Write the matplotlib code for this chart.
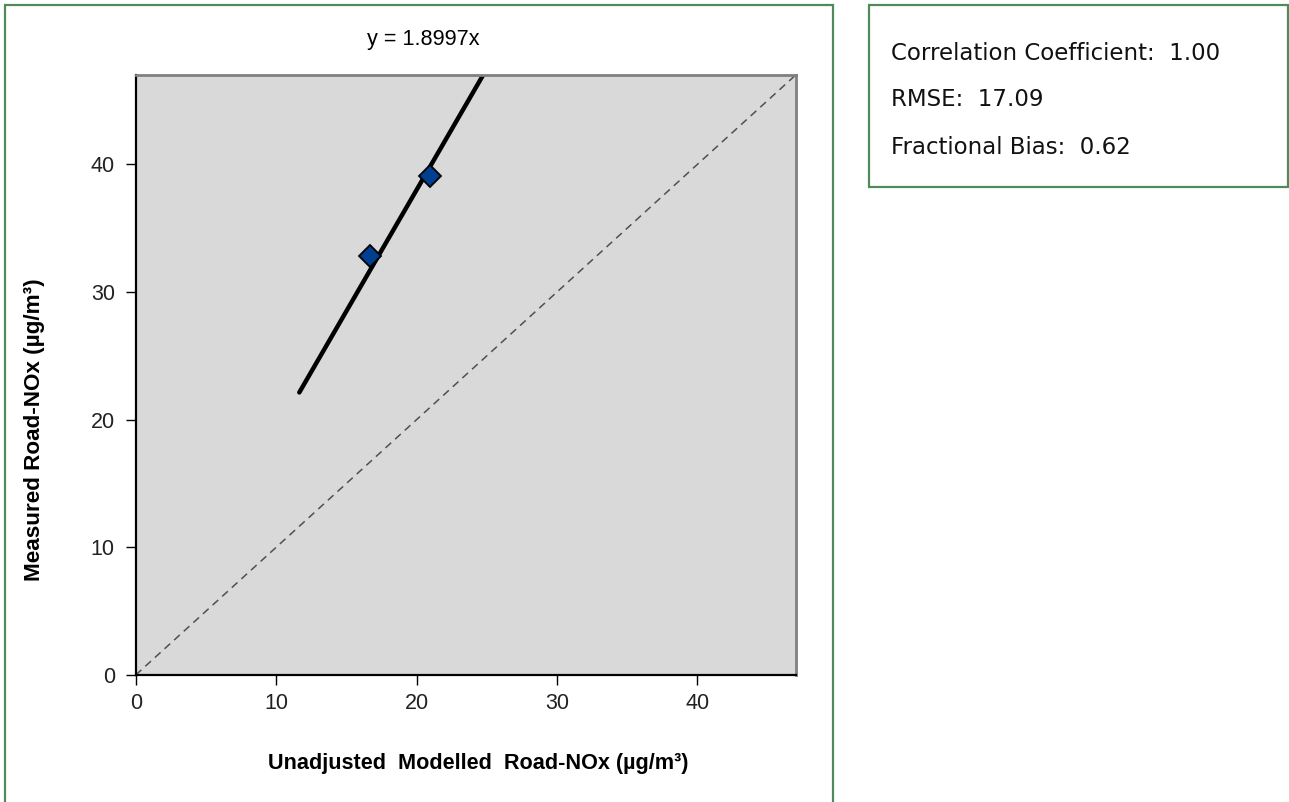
import numpy as np
import matplotlib.pyplot as plt
from matplotlib.patches import Rectangle

# measured vs unadjusted modelled road-NOx
modelled = [16.68, 20.95]
measured = [32.8, 39.1]
slope = 1.8997
trend_x = [11.65, 26.0]

axis_max = 47
ticks = [0, 10, 20, 30, 40]
stats = ['Correlation Coefficient:  1.00', 'RMSE:  17.09', 'Fractional Bias:  0.62']

W, H = 1289, 802
fig = plt.figure(figsize=(W / 100, H / 100), dpi=100)
green = '#4e8a5c'

# panel borders
fig.patches.append(Rectangle((4.7 / W, -0.05), (833 - 4.7) / W, 1.05 - 5 / H,
                             transform=fig.transFigure, fill=False,
                             edgecolor=green, linewidth=1.6))
fig.patches.append(Rectangle((869 / W, 1 - 187 / H), (1288 - 869) / W, (187 - 5) / H,
                             transform=fig.transFigure, fill=False,
                             edgecolor=green, linewidth=1.6))

ax = fig.add_axes([135.7 / W, 1 - 675 / H, 660 / W, 600 / H])
ax.set_facecolor('#d9d9d9')

# 1:1 line and trendline
ax.plot([0, axis_max], [0, axis_max], color='#505050', lw=1.1, dashes=(5, 3.5))
tx = np.array(trend_x)
ax.plot(tx, slope * tx, color='black', lw=3.2, solid_capstyle='round')
ax.plot(modelled, measured, linestyle='none', marker='D', markersize=11,
        markerfacecolor='#003f8f', markeredgecolor='black', markeredgewidth=1.3)

ax.set_xlim(0, axis_max)
ax.set_ylim(0, axis_max)
ax.set_xticks(ticks)
ax.set_yticks(ticks)
ax.tick_params(length=7, width=1, labelsize=15.5, colors='black', labelcolor='#222222')
ax.tick_params(axis='x', pad=6)
ax.tick_params(axis='y', pad=8)
for lab in ax.get_xticklabels() + ax.get_yticklabels():
    lab.set_family('Liberation Sans')
for side in ['left', 'bottom']:
    ax.spines[side].set_color('black')
    ax.spines[side].set_linewidth(1.6)
for side in ['top', 'right']:
    ax.spines[side].set_color('#808080')
    ax.spines[side].set_linewidth(2)

fig.text(423 / W, 1 - 40 / H, 'y = 1.8997x', ha='center', va='center',
         fontsize=15.6, family='Liberation Sans')
fig.text(478 / W, 1 - 763 / H, 'Unadjusted  Modelled  Road-NOx (\u00b5g/m\u00b3)',
         ha='center', va='center', fontsize=15.6, fontweight='bold', family='Liberation Sans')
fig.text(35 / W, 1 - 430 / H, 'Measured Road-NOx (\u00b5g/m\u00b3)', rotation=90,
         ha='center', va='center', fontsize=16.2, fontweight='bold', family='Liberation Sans')

for i, s in enumerate(stats):
    fig.text(891 / W, 1 - [53, 99, 147][i] / H, s, ha='left', va='center',
             fontsize=16.5, family='DejaVu Sans', color='#111111')

fig.savefig('out.png', dpi=100)
